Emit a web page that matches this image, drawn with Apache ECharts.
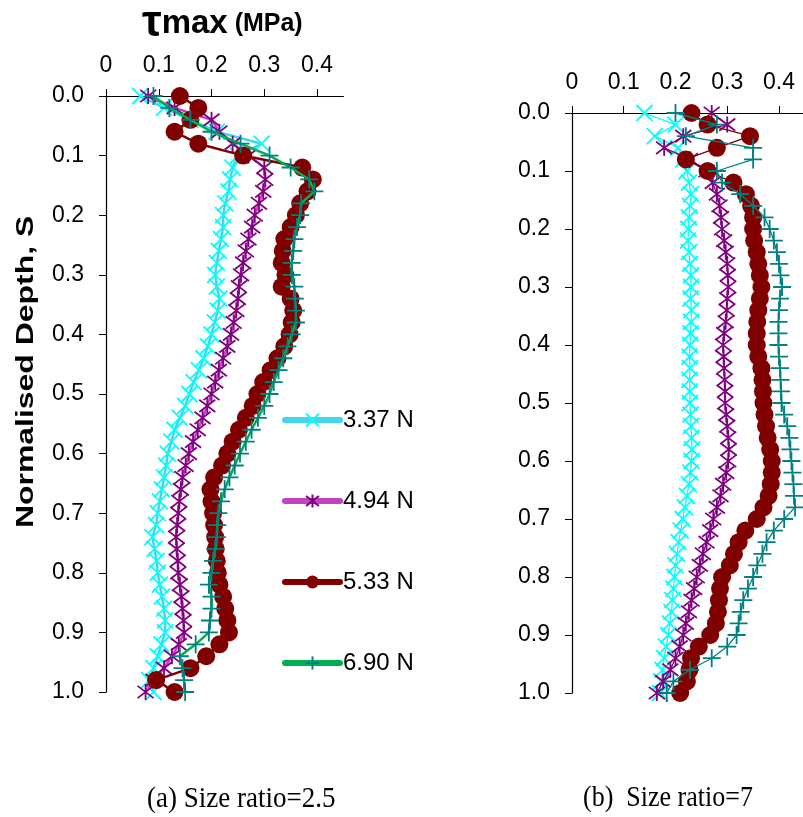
<!DOCTYPE html>
<html><head><meta charset="utf-8">
<script src="https://cdn.jsdelivr.net/npm/echarts@6/dist/echarts.min.js"></script>
<style>html,body{margin:0;padding:0;background:#fff}#c{width:803px;height:817px}</style>
</head><body><div id="c"></div>
<script>
// Normalised depth S (shared by all series)
const depth = [0,0.02,0.04,0.06,0.08,0.10,0.12,0.14,0.16,0.18,0.20,0.22,0.24,0.26,0.28,0.30,0.32,0.34,0.36,0.38,0.40,0.42,0.44,0.46,0.48,0.50,0.52,0.54,0.56,0.58,0.60,0.62,0.64,0.66,0.68,0.70,0.72,0.74,0.76,0.78,0.80,0.82,0.84,0.86,0.88,0.90,0.92,0.94,0.96,0.98,1.00];
const seriesNames = ['3.37 N','4.94 N','5.33 N','6.90 N'];
const xTicks = [0,0.1,0.2,0.3,0.4];

// (a) Size ratio = 2.5  — tau max (MPa)
const a_337 = [0.065,0.11,0.16,0.21,0.295,0.25,0.24,0.235,0.232,0.226,0.222,0.222,0.218,0.214,0.21,0.207,0.21,0.215,0.212,0.206,0.2,0.193,0.185,0.176,0.166,0.158,0.15,0.14,0.13,0.124,0.117,0.114,0.11,0.106,0.102,0.098,0.095,0.088,0.092,0.096,0.098,0.102,0.106,0.11,0.112,0.112,0.105,0.098,0.09,0.082,0.09];
const a_494 = [0.08,0.13,0.2,0.215,0.24,0.27,0.3,0.302,0.298,0.29,0.282,0.277,0.27,0.265,0.26,0.256,0.252,0.25,0.247,0.242,0.237,0.23,0.222,0.214,0.207,0.2,0.192,0.183,0.174,0.165,0.157,0.151,0.145,0.142,0.139,0.137,0.135,0.133,0.134,0.136,0.137,0.14,0.143,0.145,0.147,0.148,0.138,0.125,0.11,0.09,0.075];
const a_533 = [0.14,0.175,0.16,0.13,0.175,0.26,0.372,0.392,0.382,0.368,0.36,0.35,0.338,0.335,0.333,0.34,0.333,0.35,0.355,0.352,0.348,0.338,0.325,0.312,0.298,0.287,0.278,0.265,0.252,0.24,0.23,0.22,0.205,0.198,0.2,0.203,0.205,0.207,0.208,0.21,0.212,0.215,0.222,0.226,0.23,0.233,0.215,0.19,0.16,0.095,0.13];
const a_690 = [0.09,0.12,0.16,0.2,0.255,0.31,0.35,0.385,0.395,0.37,0.368,0.362,0.357,0.355,0.352,0.352,0.357,0.358,0.36,0.36,0.352,0.344,0.336,0.327,0.318,0.31,0.3,0.288,0.276,0.265,0.254,0.244,0.234,0.225,0.218,0.213,0.211,0.21,0.207,0.203,0.2,0.195,0.2,0.2,0.197,0.195,0.17,0.14,0.145,0.148,0.15];

// (b) Size ratio = 7
const b_337 = [0.14,0.2,0.16,0.205,0.215,0.222,0.226,0.23,0.228,0.226,0.225,0.224,0.226,0.228,0.23,0.23,0.229,0.231,0.23,0.229,0.228,0.227,0.228,0.227,0.228,0.228,0.229,0.23,0.231,0.232,0.231,0.229,0.226,0.222,0.218,0.214,0.21,0.206,0.203,0.2,0.198,0.196,0.194,0.192,0.189,0.186,0.182,0.178,0.175,0.172,0.17];
const b_494 = [0.27,0.3,0.215,0.178,0.228,0.26,0.272,0.28,0.285,0.288,0.29,0.294,0.297,0.3,0.301,0.302,0.3,0.299,0.297,0.294,0.292,0.293,0.294,0.295,0.296,0.296,0.298,0.3,0.302,0.303,0.302,0.298,0.292,0.287,0.28,0.273,0.267,0.26,0.253,0.247,0.241,0.236,0.231,0.226,0.22,0.215,0.208,0.2,0.19,0.176,0.164];
const b_533 = [0.231,0.262,0.344,0.28,0.22,0.262,0.312,0.336,0.346,0.35,0.35,0.352,0.357,0.36,0.363,0.366,0.363,0.36,0.358,0.357,0.357,0.36,0.366,0.368,0.369,0.37,0.372,0.375,0.378,0.383,0.386,0.386,0.384,0.38,0.37,0.357,0.335,0.322,0.313,0.305,0.29,0.286,0.284,0.282,0.278,0.267,0.245,0.23,0.227,0.222,0.209];
const b_690 = [0.2,0.28,0.22,0.35,0.35,0.28,0.29,0.325,0.35,0.372,0.382,0.39,0.396,0.4,0.403,0.406,0.402,0.4,0.399,0.399,0.399,0.4,0.402,0.403,0.404,0.405,0.41,0.416,0.42,0.422,0.424,0.426,0.428,0.429,0.431,0.41,0.39,0.376,0.368,0.358,0.35,0.34,0.331,0.326,0.322,0.318,0.3,0.27,0.228,0.196,0.183];

const leftData = [a_337,a_494,a_533,a_690];
const rightData = [b_337,b_494,b_533,b_690];

const FONT = 'Liberation Sans, Arial, sans-serif';
const SERIF = 'Liberation Serif, Times New Roman, serif';
const legendLine = ['#3fd7ea','#c242c2','#800000','#00b050'];
const markColor = ['#00ffff','#800080','#800000','#008080'];
const symbols = ['path://M0,0L10,10M10,0L0,10','path://M0,0L10,10M10,0L0,10M5,-1.5L5,11.5','circle','path://M5,0L5,10M0,5L10,5'];
const symSize = [16,16,18,18];

function mk(vals, i, g) {
  return {
    type: 'line', name: seriesNames[i], xAxisIndex: g, yAxisIndex: g,
    data: depth.map((d, k) => [vals[k], d]),
    symbol: symbols[i], symbolSize: symSize[i], showSymbol: true,
    lineStyle: { color: g === 0 ? legendLine[i] : markColor[i], width: g === 0 ? 2.5 : 1.3 },
    itemStyle: { color: markColor[i], borderColor: markColor[i], borderWidth: i === 2 ? 0 : 1.8 },
    z: 2 + i, animation: false, emphasis: { disabled: true }
  };
}

function xAxis(g) {
  return {
    type: 'value', gridIndex: g, position: 'top', min: 0, max: g === 0 ? 0.45 : 0.446,
    interval: 0.1,
    axisLine: { show: true, onZero: false, lineStyle: { color: '#000', width: 1.2 } },
    axisTick: { show: true, length: 7, customValues: xTicks, lineStyle: { color: '#000' } },
    axisLabel: { customValues: xTicks, margin: 19, fontSize: 23, fontFamily: FONT, color: '#000',
      formatter: v => v === 0 ? '0' : String(v) },
    splitLine: { show: false }
  };
}
function yAxis(g) {
  return {
    type: 'value', gridIndex: g, inverse: true, min: 0, max: 1, interval: 0.1,
    axisLine: { show: true, onZero: false, lineStyle: { color: '#000', width: 1.2 } },
    axisTick: { show: true, length: 7, lineStyle: { color: '#000' } },
    axisLabel: { margin: 22, fontSize: 23, fontFamily: FONT, color: '#000', formatter: v => v.toFixed(1) },
    splitLine: { show: false }
  };
}

const chart = echarts.init(document.getElementById('c'), null, { renderer: 'canvas' });
chart.setOption({
  backgroundColor: '#fff',
  animation: false,
  title: {
    text: '{t|τ}{m|max}{u| (MPa)}', left: 142, top: 2, padding: 0,
    textStyle: { rich: {
      t: { fontSize: 44, fontWeight: 'bold', fontFamily: FONT, color: '#000' },
      m: { fontSize: 33, fontWeight: 'bold', fontFamily: FONT, color: '#000' },
      u: { fontSize: 25, fontWeight: 'bold', fontFamily: FONT, color: '#000' }
    } }
  },
  grid: [
    { left: 106, top: 96, width: 237.4, height: 596 },
    { left: 572, top: 113, width: 230.8, height: 580 }
  ],
  xAxis: [xAxis(0), xAxis(1)],
  yAxis: [yAxis(0), yAxis(1)],
  legend: {
    orient: 'vertical', left: 282, top: 408, padding: 0, itemWidth: 55, itemHeight: 16, itemGap: 57,
    textStyle: { fontSize: 24, fontFamily: FONT, color: '#000', padding: [0, 0, 0, -2] },
    selectedMode: false,
    data: seriesNames.map((n, i) => ({ name: n, lineStyle: { color: legendLine[i], width: 6, cap: 'round' } }))
  },
  graphic: [
    { type: 'text', x: 14, y: 528, rotation: Math.PI / 2, scaleX: 1.33,
      style: { text: 'Normalised Depth, S', fontSize: 24, fontWeight: 'bold', fontFamily: FONT, fill: '#000', textBaseline: 'top' } },
    { type: 'text', x: 147, y: 784, scaleY: 1.1, style: { text: '(a) Size ratio=2.5', fontSize: 27, fontFamily: SERIF, fill: '#000' } },
    { type: 'text', x: 583, y: 784, scaleY: 1.1, style: { text: '(b)  Size ratio=7', fontSize: 26, fontFamily: SERIF, fill: '#000' } }
  ],
  series: leftData.map((v, i) => mk(v, i, 0)).concat(rightData.map((v, i) => mk(v, i, 1)))
});
</script></body></html>
